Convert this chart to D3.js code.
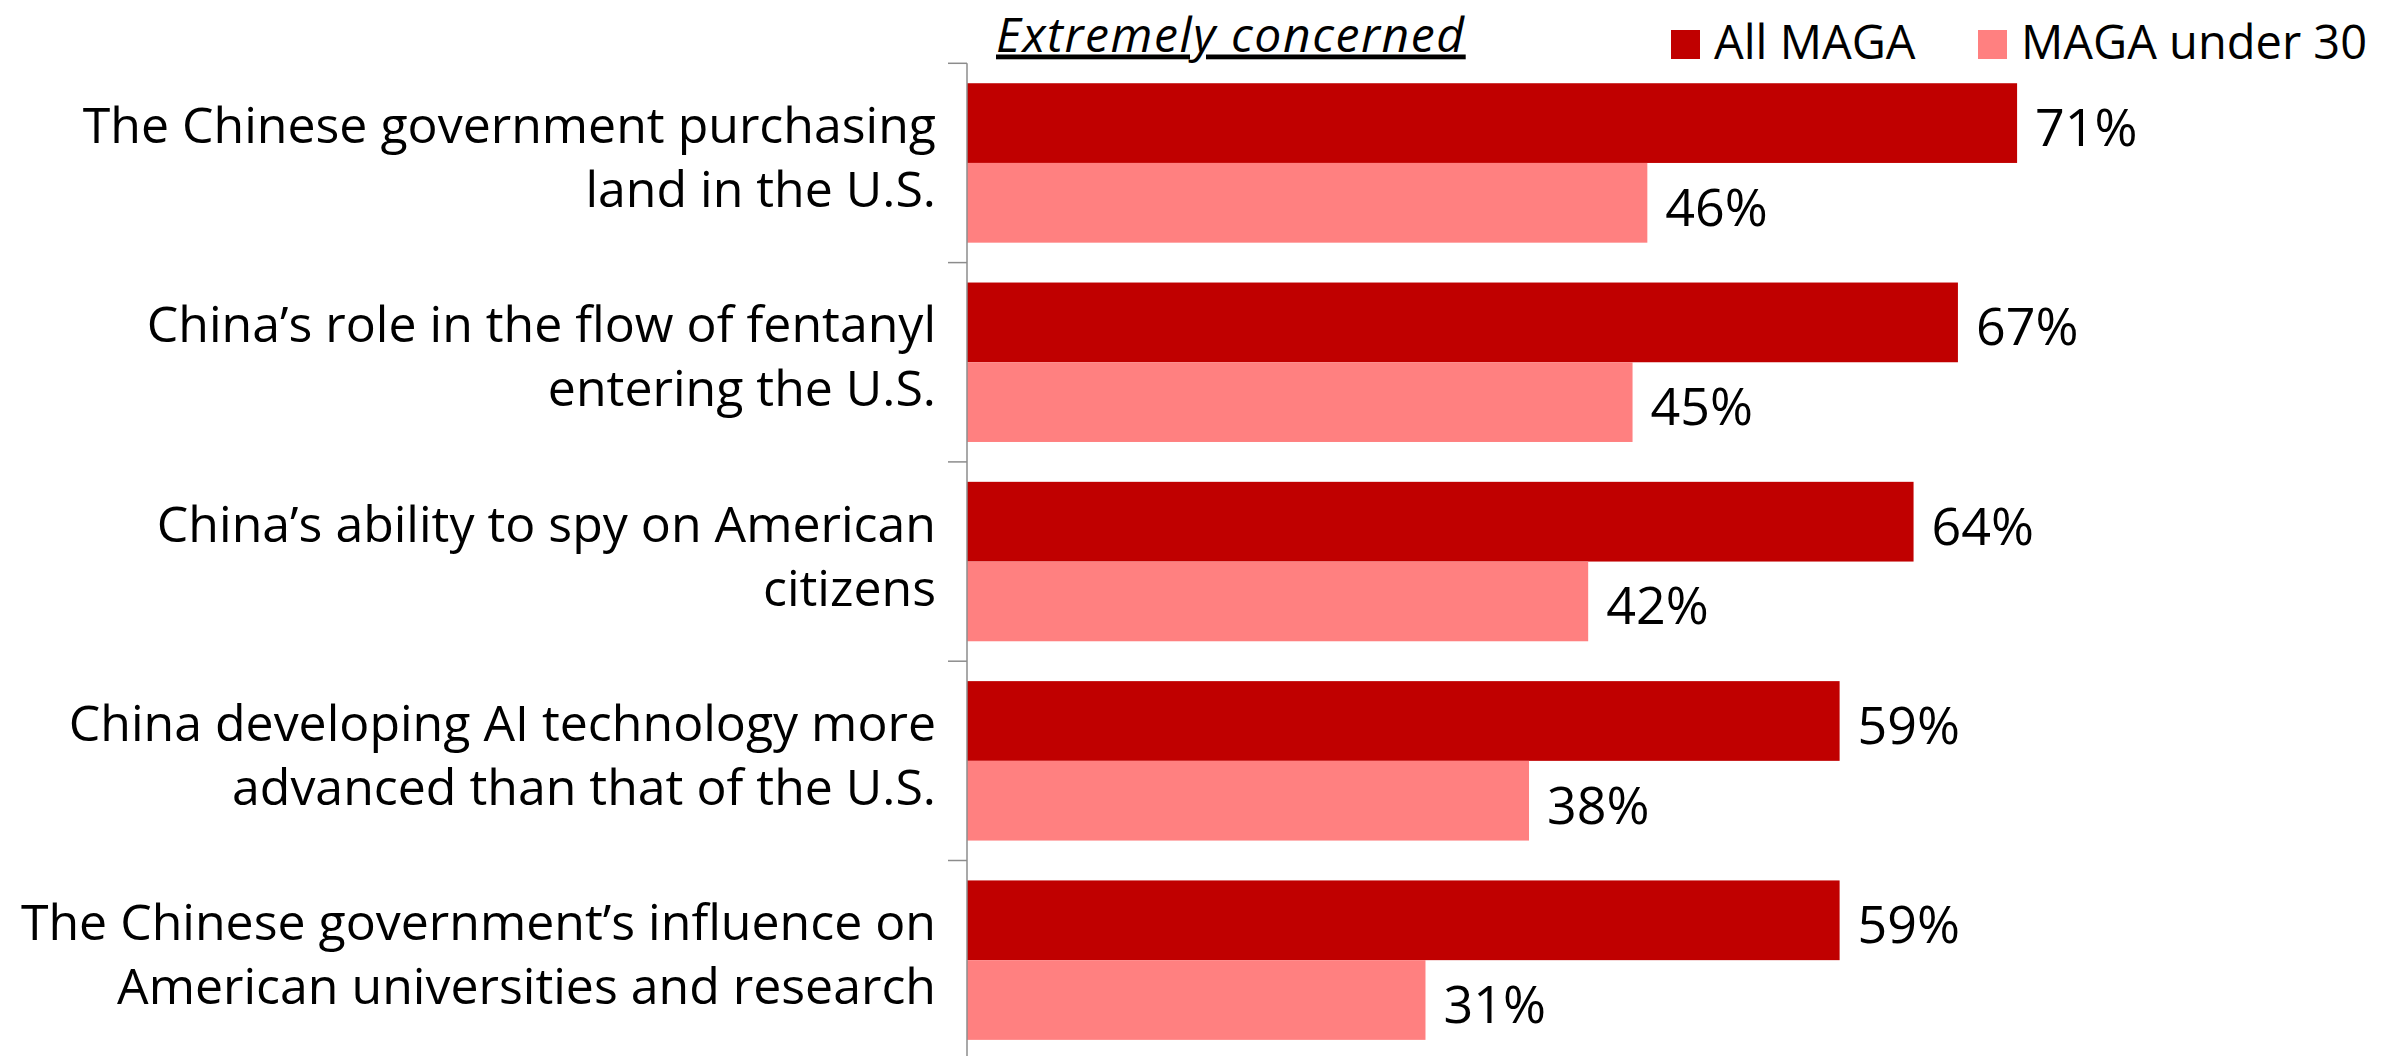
<!DOCTYPE html>
<html>
<head>
<meta charset="utf-8">
<script src="https://cdn.jsdelivr.net/npm/d3@7"></script>
<style>
  html, body { margin: 0; padding: 0; background: #fff; }
  svg { display: block; }
  text { font-family: "Open Sans", "Noto Sans", sans-serif; fill: #000; }
</style>
</head>
<body>
<svg id="chart" width="2387" height="1056"></svg>
<script>
// ---- data ----
const categories = [
  ["The Chinese government purchasing", "land in the U.S."],
  ["China\u2019s role in the flow of fentanyl", "entering the U.S."],
  ["China\u2019s ability to spy on American", "citizens"],
  ["China developing AI technology more", "advanced than that of the U.S."],
  ["The Chinese government\u2019s influence on", "American universities and research"]
];
const seriesNames = ["All MAGA", "MAGA under 30"];
const allMaga = [71, 67, 64, 59, 59];
const magaUnder30 = [46, 45, 42, 38, 31];
const seriesColors = ["#C00000", "#FF8080"];
const titleText = "Extremely concerned";

// ---- layout ----
const svg = d3.select("#chart");
const axisX = 967;
const pxPerPct = 14.79;
const x = d3.scaleLinear().domain([0, 100]).range([axisX, axisX + 100 * pxPerPct]);
const catIdx = d3.range(categories.length);
const y = d3.scaleBand().domain(catIdx).range([63.3, 1059.8]).paddingInner(0.2).paddingOuter(0.1);
const ySub = d3.scaleBand().domain([0, 1]).range([0, y.bandwidth()]).padding(0);

const series = [allMaga, magaUnder30];

// bars
series.forEach((vals, s) => {
  svg.append("g").selectAll("rect").data(vals).join("rect")
    .attr("x", x(0))
    .attr("y", (d, i) => y(i) + ySub(s))
    .attr("width", d => x(d) - x(0))
    .attr("height", ySub.bandwidth())
    .attr("fill", seriesColors[s]);
  svg.append("g").selectAll("text").data(vals).join("text")
    .attr("x", d => x(d) + 18)
    .attr("y", (d, i) => y(i) + ySub(s) + ySub.bandwidth() / 2 + 23)
    .style("font-size", "52px")
    .text(d => d + "%");
});

// axis line + ticks at category boundaries
const step = y.step();
const r0 = y.range()[0], r1 = y.range()[1];
svg.append("line")
  .attr("x1", axisX).attr("x2", axisX).attr("y1", r0).attr("y2", r1)
  .attr("stroke", "#8c8c8c").attr("stroke-width", 1.5);
const bounds = d3.range(categories.length + 1).map(i => r0 + i * step);
svg.append("g").selectAll("line").data(bounds).join("line")
  .attr("x1", axisX - 19).attr("x2", axisX)
  .attr("y1", d => d).attr("y2", d => d)
  .attr("stroke", "#8c8c8c").attr("stroke-width", 1.5);

// category labels
const lab = svg.append("g").selectAll("text").data(categories).join("text")
  .attr("text-anchor", "end")
  .style("font-size", "50px")
  .attr("y", (d, i) => y(i) + y.bandwidth() / 2);
lab.each(function(lines) {
  const t = d3.select(this);
  const cy = +t.attr("y");
  lines.forEach((ln, k) => {
    t.append("tspan").attr("x", axisX - 31).attr("y", cy + (k === 0 ? -20 : 44)).text(ln);
  });
});

// title
svg.append("text")
  .attr("x", 996).attr("y", 51.5)
  .style("font-size", "48px").style("font-style", "italic")
  .style("letter-spacing", "1.6px")
  .style("text-decoration", "underline")
  .text(titleText);

// legend
const legX = [1671, 1978];
seriesNames.forEach((n, s) => {
  svg.append("rect").attr("x", legX[s]).attr("y", 30).attr("width", 29).attr("height", 29)
    .attr("fill", seriesColors[s]);
  svg.append("text").attr("x", legX[s] + 43).attr("y", 59)
    .style("font-size", "47px").text(n);
});
</script>
</body>
</html>
